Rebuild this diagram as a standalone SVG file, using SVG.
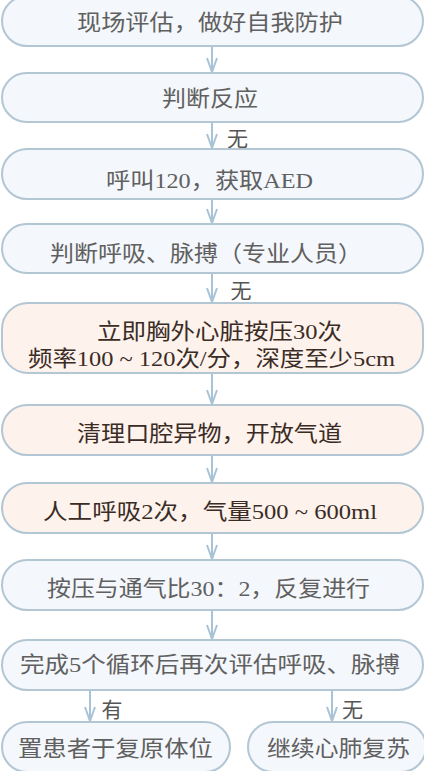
<svg xmlns="http://www.w3.org/2000/svg" width="424" height="771" viewBox="0 0 424 771">
<defs>
<style>
.box{fill:#f4f7fb;stroke:#b3c6d4;stroke-width:2}
.warm{fill:#fdf2ec;stroke:#b3c6d4;stroke-width:2}
.t{font-family:"Liberation Serif","Noto Sans CJK SC",serif;font-size:22px;fill:#606060;text-anchor:middle}
.tw{font-family:"Liberation Serif","Noto Sans CJK SC",serif;font-size:22px;fill:#3a2c25;text-anchor:middle}
.lb{font-family:"Liberation Serif","Noto Sans CJK SC",serif;font-size:21px;fill:#555;text-anchor:middle}
.ar{stroke:#a9c3d6;stroke-width:2;fill:none}
</style>
<marker id="ah" viewBox="-1 -6 16 12" refX="14" refY="0" markerWidth="16" markerHeight="12" markerUnits="userSpaceOnUse" orient="auto">
<path d="M0,-5 L14,0 L0,5" fill="none" stroke="#a9c3d6" stroke-width="2"/>
</marker>
</defs>
<rect width="424" height="771" fill="#ffffff"/>
<g id="connectors">
<line class="ar" x1="212" y1="46" x2="212" y2="72" marker-end="url(#ah)"/>
<line class="ar" x1="212" y1="122" x2="212" y2="148" marker-end="url(#ah)"/>
<line class="ar" x1="212" y1="199" x2="212" y2="223" marker-end="url(#ah)"/>
<line class="ar" x1="212" y1="273" x2="212" y2="302" marker-end="url(#ah)"/>
<line class="ar" x1="212" y1="373" x2="212" y2="404" marker-end="url(#ah)"/>
<line class="ar" x1="212" y1="455" x2="212" y2="482" marker-end="url(#ah)"/>
<line class="ar" x1="212" y1="533" x2="212" y2="559" marker-end="url(#ah)"/>
<line class="ar" x1="212" y1="610" x2="212" y2="639" marker-end="url(#ah)"/>
<line class="ar" x1="90" y1="690" x2="90" y2="721" marker-end="url(#ah)"/>
<line class="ar" x1="332" y1="690" x2="332" y2="721" marker-end="url(#ah)"/>
<text class="lb" x="237.5" y="146">无</text>
<text class="lb" x="241" y="298">无</text>
<text class="lb" x="112" y="717">有</text>
<text class="lb" x="352.5" y="717">无</text>
</g>
<g id="n1"><rect class="box" x="2" y="-4" width="421" height="50" rx="25"/><text class="t" x="210" y="30" textLength="266" lengthAdjust="spacingAndGlyphs">现场评估，做好自我防护</text></g>
<g id="n2"><rect class="box" x="2" y="73" width="421" height="49" rx="24.5"/><text class="t" x="210" y="106" textLength="96" lengthAdjust="spacingAndGlyphs">判断反应</text></g>
<g id="n3"><rect class="box" x="2" y="149" width="421" height="50" rx="25"/><text class="t" x="209.5" y="188" textLength="207" lengthAdjust="spacingAndGlyphs">呼叫120，获取AED</text></g>
<g id="n4"><rect class="box" x="2" y="224" width="421" height="49" rx="24.5"/><text class="t" x="206" y="261" textLength="312" lengthAdjust="spacingAndGlyphs">判断呼吸、脉搏（专业人员）</text></g>
<g id="n5"><rect class="warm" x="2" y="303" width="421" height="70" rx="26"/><text class="tw" x="219.5" y="339" textLength="245" lengthAdjust="spacingAndGlyphs">立即胸外心脏按压30次</text><text class="tw" x="211.5" y="366" textLength="367" lengthAdjust="spacingAndGlyphs">频率100 ~ 120次/分，深度至少5cm</text></g>
<g id="n6"><rect class="warm" x="2" y="405" width="421" height="50" rx="25"/><text class="tw" x="209.5" y="441" textLength="265" lengthAdjust="spacingAndGlyphs">清理口腔异物，开放气道</text></g>
<g id="n7"><rect class="warm" x="2" y="483" width="421" height="50" rx="25"/><text class="tw" x="210" y="519" textLength="334" lengthAdjust="spacingAndGlyphs">人工呼吸2次，气量500 ~ 600ml</text></g>
<g id="n8"><rect class="box" x="2" y="560" width="421" height="50" rx="25"/><text class="t" x="208.5" y="596" textLength="323" lengthAdjust="spacingAndGlyphs">按压与通气比30：2，反复进行</text></g>
<g id="n9"><rect class="box" x="2" y="640" width="421" height="50" rx="25"/><text class="t" x="210" y="672" textLength="380" lengthAdjust="spacingAndGlyphs">完成5个循环后再次评估呼吸、脉搏</text></g>
<g id="n10"><rect class="box" x="2" y="722" width="228" height="50" rx="25"/><text class="t" x="115.5" y="756" textLength="195" lengthAdjust="spacingAndGlyphs">置患者于复原体位</text></g>
<g id="n11"><rect class="box" x="248" y="722" width="178" height="50" rx="25"/><text class="t" x="338.5" y="756" textLength="143" lengthAdjust="spacingAndGlyphs">继续心肺复苏</text></g>
</svg>
